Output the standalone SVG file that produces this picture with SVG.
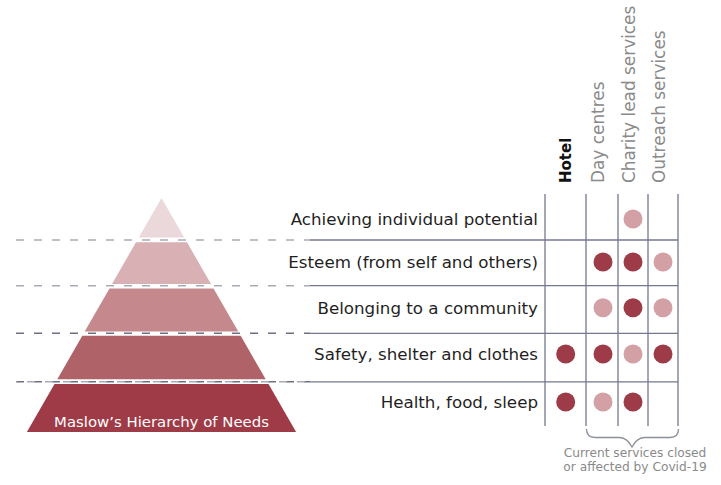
<svg xmlns="http://www.w3.org/2000/svg" width="721" height="485" viewBox="0 0 721 485">
<style>
.lbl{font-family:"DejaVu Sans","Liberation Sans",sans-serif;font-size:16.7px;fill:#1f1f1f;text-anchor:end}
.hdr{font-family:"DejaVu Sans","Liberation Sans",sans-serif;font-size:16.9px;fill:#8a8a8a}
.hdrb{font-family:"DejaVu Sans","Liberation Sans",sans-serif;font-size:15px;font-weight:bold;fill:#111}
.cap{font-family:"DejaVu Sans","Liberation Sans",sans-serif;font-size:12.2px;fill:#8a8a8a;text-anchor:middle}
.grid{stroke:#737890;stroke-width:1.3;fill:none}
.dl{stroke:#a9aab6;stroke-width:1.6;stroke-dasharray:8 10;fill:none}
.dd{stroke:#6c7084;stroke-width:1.6;stroke-dasharray:8 10;fill:none}
.dk{fill:#9e3b48}
.lt{fill:#d2a0a5}
</style>
<rect width="721" height="485" fill="#ffffff"/>
<g id="pyramid">
<polygon id="tier1" points="161.5,198 138.8,237.5 184.2,237.5" fill="#ebd8da"/>
<polygon id="tier2" points="136,242.3 187,242.3 211,284 112,284" fill="#d9b1b5"/>
<polygon id="tier3" points="109.5,288.5 213.5,288.5 238.3,331.5 84.7,331.5" fill="#c5888d"/>
<polygon id="tier4" points="82.3,335.8 240.7,335.8 265.7,379.3 57.3,379.3" fill="#b06269"/>
<polygon id="tier5" points="54.5,384 268.5,384 296.1,432 26.9,432" fill="#9e3b47"/>
<text x="161.5" y="426.5" style="font-family:'DejaVu Sans','Liberation Sans',sans-serif;font-size:14.9px;fill:#ffffff;text-anchor:middle">Maslow’s Hierarchy of Needs</text>
</g>
<g id="connectors">
<line class="dl" x1="16" y1="240" x2="310" y2="240"/>
<line class="dl" x1="16" y1="285.7" x2="310" y2="285.7"/>
<line class="dd" x1="16" y1="333.3" x2="310" y2="333.3"/>
<line class="dd" x1="16" y1="381.8" x2="310" y2="381.8"/>
<line class="dl" x1="16" y1="381.8" x2="310" y2="381.8" stroke-dashoffset="-11"/>
<line class="grid" x1="310" y1="240" x2="678" y2="240"/>
<line class="grid" x1="310" y1="285.7" x2="678" y2="285.7"/>
<line class="grid" x1="310" y1="333.3" x2="678" y2="333.3"/>
<line class="grid" x1="310" y1="381.8" x2="678" y2="381.8"/>
<line class="grid" x1="545" y1="194" x2="545" y2="426"/>
<line class="grid" x1="586" y1="194" x2="586" y2="426"/>
<line class="grid" x1="618" y1="194" x2="618" y2="426"/>
<line class="grid" x1="648" y1="194" x2="648" y2="426"/>
<line class="grid" x1="678" y1="194" x2="678" y2="426"/>
<path d="M586.5,429 Q586.5,437.5 595,437.5 H619 Q627,437.5 632,447 Q637,437.5 645,437.5 H670 Q678.5,437.5 678.5,429" stroke="#8d8f9a" stroke-width="1.3" fill="none"/>
</g>
<g id="headers">
<text class="hdrb" transform="translate(570.5,183) rotate(-90)">Hotel</text>
<text class="hdr" transform="translate(604,183) rotate(-90)">Day centres</text>
<text class="hdr" transform="translate(634.5,183) rotate(-90)">Charity lead services</text>
<text class="hdr" transform="translate(665,183) rotate(-90)">Outreach services</text>
</g>
<g id="row1"><text class="lbl" x="538" y="225">Achieving individual potential</text>
<circle class="lt" cx="633" cy="219" r="9.5"/></g>
<g id="row2"><text class="lbl" x="538" y="268">Esteem (from self and others)</text>
<circle class="dk" cx="603" cy="262" r="9.5"/><circle class="dk" cx="633" cy="262" r="9.5"/><circle class="lt" cx="663" cy="262" r="9.5"/></g>
<g id="row3"><text class="lbl" x="538" y="313.5">Belonging to a community</text>
<circle class="lt" cx="603" cy="307.7" r="9.5"/><circle class="dk" cx="633" cy="307.7" r="9.5"/><circle class="lt" cx="663" cy="307.7" r="9.5"/></g>
<g id="row4"><text class="lbl" x="538" y="359.5">Safety, shelter and clothes</text>
<circle class="dk" cx="565.7" cy="354" r="9.5"/><circle class="dk" cx="603" cy="354" r="9.5"/><circle class="lt" cx="633" cy="354" r="9.5"/><circle class="dk" cx="663" cy="354" r="9.5"/></g>
<g id="row5"><text class="lbl" x="538" y="407.5">Health, food, sleep</text>
<circle class="dk" cx="565.7" cy="402" r="9.5"/><circle class="lt" cx="603" cy="402" r="9.5"/><circle class="dk" cx="633" cy="402" r="9.5"/></g>
<g id="caption">
<text class="cap" x="635" y="457.3">Current services closed</text>
<text class="cap" x="635" y="470.8">or affected by Covid-19</text>
</g>
</svg>
